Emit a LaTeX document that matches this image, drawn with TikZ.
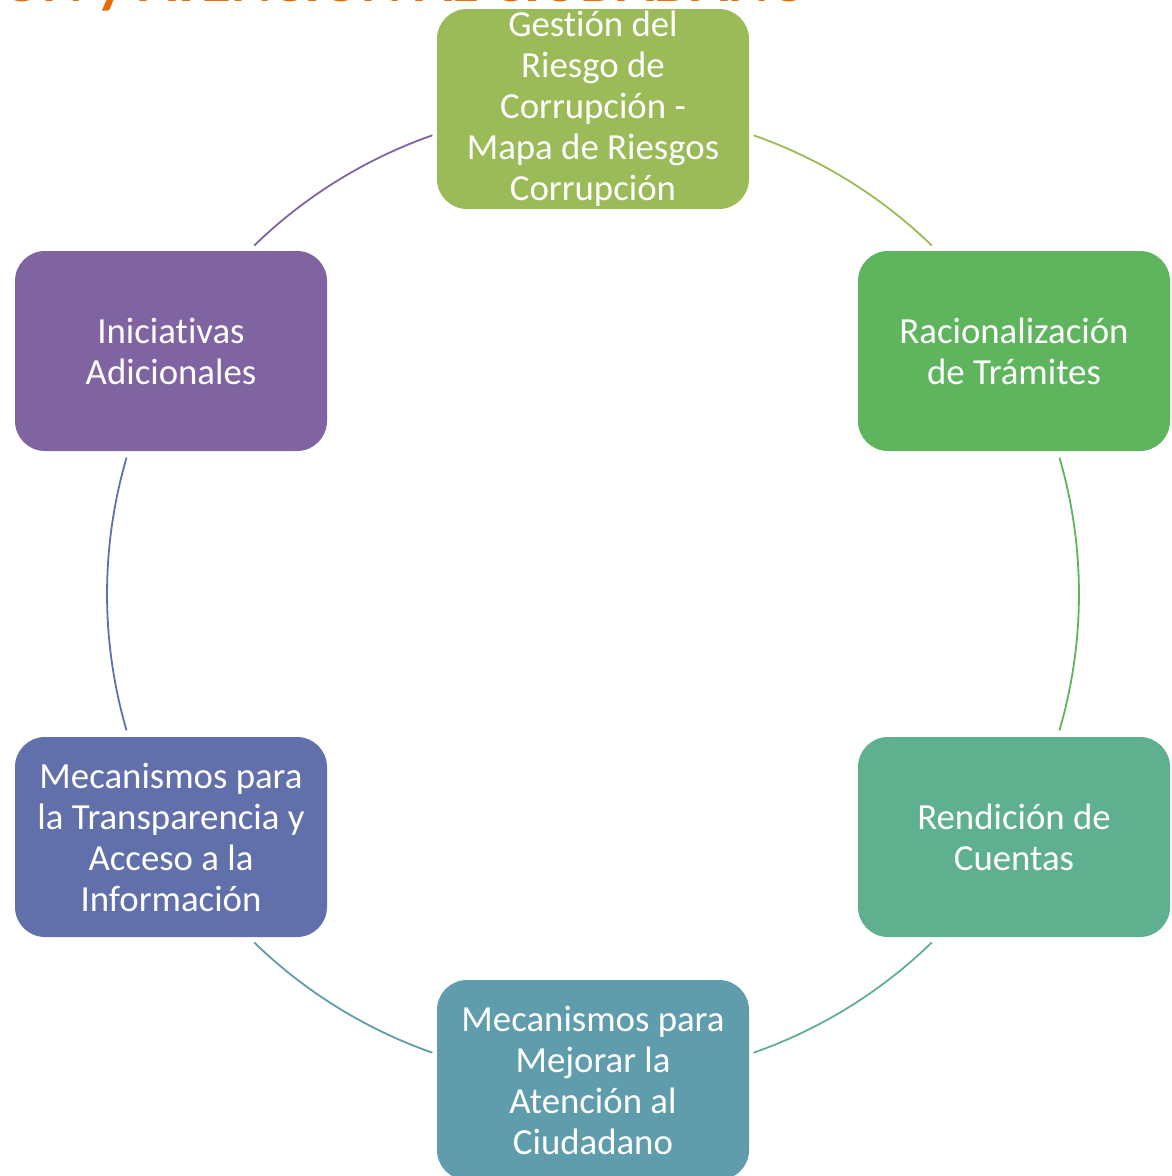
\documentclass[tikz,border=0pt]{standalone}
\usepackage{fontspec}
\setmainfont{Carlito}[Ligatures={NoCommon}]
\definecolor{cTop}{HTML}{9BBB59}
\definecolor{cRa}{HTML}{5FB55E}
\definecolor{cRb}{HTML}{5EB08E}
\definecolor{cBot}{HTML}{5F9DAC}
\definecolor{cLb}{HTML}{6170AB}
\definecolor{cLa}{HTML}{8063A1}
\definecolor{cTitle}{HTML}{E46C0A}
\tikzset{
  stagebox/.style={rectangle, rounded corners=30pt, minimum width=312pt, minimum height=200pt,
    inner sep=0pt, align=center, text=white, font=\fontsize{36.8}{41}\selectfont},
  ringarc/.style={line width=1.8pt}
}
\begin{document}
\begin{tikzpicture}[x=1pt,y=-1pt]
\useasboundingbox (0,0) rectangle (1171,1176);
\clip (0,0) rectangle (1171,1176);
\fill[white] (0,0) rectangle (1171,1176);
% title (cut off at the top)
\node[anchor=base east, inner sep=0pt, text=cTitle, font=\bfseries\fontsize{61}{70}\selectfont] (title) at (810,1.5) {CORRUPCIÓN y ATENCIÓN AL CIUDADANO};
% centre of ring
\coordinate (C) at (593,594);
% arcs
\path (C) ++(-70.7:486) coordinate (a1s) (C) ++(-45.8:486) coordinate (a1e);
\path (C) ++(-16.3:486) coordinate (a2s) (C) ++(16.3:486) coordinate (a2e);
\path (C) ++(45.8:486) coordinate (a3s) (C) ++(70.7:486) coordinate (a3e);
\path (C) ++(109.3:486) coordinate (a4s) (C) ++(134.2:486) coordinate (a4e);
\path (C) ++(163.7:486) coordinate (a5s) (C) ++(196.3:486) coordinate (a5e);
\path (C) ++(225.8:486) coordinate (a6s) (C) ++(250.7:486) coordinate (a6e);
\draw[ringarc, cTop] (a1s) arc[start angle=-70.7, end angle=-45.8, radius=486];
\draw[ringarc, cRa] (a2s) arc[start angle=-16.3, end angle=16.3, radius=486];
\draw[ringarc, cRb] (a3s) arc[start angle=45.8, end angle=70.7, radius=486];
\draw[ringarc, cBot] (a4s) arc[start angle=109.3, end angle=134.2, radius=486];
\draw[ringarc, cLb] (a5s) arc[start angle=163.7, end angle=196.3, radius=486];
\draw[ringarc, cLa] (a6s) arc[start angle=225.8, end angle=250.7, radius=486];
% boxes
\node[stagebox, fill=cTop] (top) at (593,109) {Gestión del\\Riesgo de\\Corrupción -\\Mapa de Riesgos\\Corrupción};
\node[stagebox, fill=cRa] (ra) at (1014,351) {Racionalización\\de Trámites};
\node[stagebox, fill=cRb] (rb) at (1014,837) {Rendición de\\Cuentas};
\node[stagebox, fill=cBot] (bot) at (593,1080) {Mecanismos para\\Mejorar la\\Atención al\\Ciudadano};
\node[stagebox, fill=cLb] (lb) at (171,837) {Mecanismos para\\la Transparencia y\\Acceso a la\\Información};
\node[stagebox, fill=cLa] (la) at (171,351) {Iniciativas\\Adicionales};
\end{tikzpicture}
\end{document}
